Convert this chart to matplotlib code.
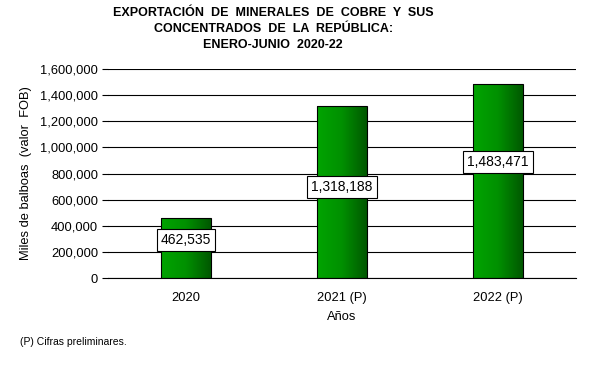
import matplotlib
matplotlib.use("Agg")
import matplotlib.pyplot as plt
import numpy as np
from matplotlib.ticker import FuncFormatter
from matplotlib.colors import LinearSegmentedColormap

plt.rcParams['font.family'] = ['Liberation Sans', 'DejaVu Sans']

# Datos
categorias = ['2020', '2021 (P)', '2022 (P)']
valores = [462535, 1318188, 1483471]
# posición vertical de cada etiqueta como fracción del valor
pos_etiqueta = [0.63, 0.53, 0.60]

fig = plt.figure(figsize=(5.9, 3.65), dpi=100)
ax = fig.add_axes([0.183, 0.238, 0.793, 0.573])

x = np.arange(len(categorias))
ancho = 0.32
barras = ax.bar(x, valores, width=ancho, color='none', edgecolor='black', linewidth=0.8, zorder=3)

# Degradado verde horizontal en cada barra
cmap = LinearSegmentedColormap.from_list('verde', ['#00a400', '#009000', '#005800'])
grad = np.linspace(0, 1, 100).reshape(1, -1)
for b in barras:
    x0, y0 = b.get_x(), b.get_y()
    im = ax.imshow(grad, cmap=cmap, aspect='auto', extent=[x0, x0 + b.get_width(), y0, y0 + b.get_height()],
                   zorder=2, interpolation='bicubic')
    im.set_clip_path(b)

for i, v in enumerate(valores):
    ax.text(x[i], v * pos_etiqueta[i], f'{v:,}', ha='center', va='center', fontsize=10, zorder=4,
            bbox=dict(boxstyle='square,pad=0.3', facecolor='white', edgecolor='black', linewidth=0.8))

ax.set_xlim(-0.5, 2.5)
ax.set_ylim(0, 1600000)
ax.set_yticks(np.arange(0, 1600001, 200000))
ax.yaxis.set_major_formatter(FuncFormatter(lambda v, p: f'{int(v):,}'))
ax.set_xticks(x)
ax.set_xticklabels(categorias)
ax.tick_params(axis='y', length=4, width=0.8, labelsize=9.3, pad=3)
ax.tick_params(axis='x', length=0, labelsize=9.3, pad=10)
ax.grid(axis='y', color='black', linewidth=0.8, zorder=1)
ax.set_axisbelow(True)
for s in ['top', 'right', 'left']:
    ax.spines[s].set_visible(False)
ax.spines['bottom'].set_linewidth(0.8)

ax.set_xlabel('Años', fontsize=9.3, labelpad=5)
ax.set_ylabel('Miles de balboas  (valor  FOB)', fontsize=9.3, labelpad=6)

fig.text(0.463, 0.982, 'EXPORTACIÓN  DE  MINERALES  DE  COBRE  Y  SUS\nCONCENTRADOS  DE  LA  REPÚBLICA:\nENERO-JUNIO  2020-22',
         ha='center', va='top', fontsize=9, fontweight='bold', linespacing=1.45)
fig.text(0.034, 0.063, '(P) Cifras preliminares.', fontsize=7.5, ha='left', va='center')

fig.savefig('out.png', dpi=100)
